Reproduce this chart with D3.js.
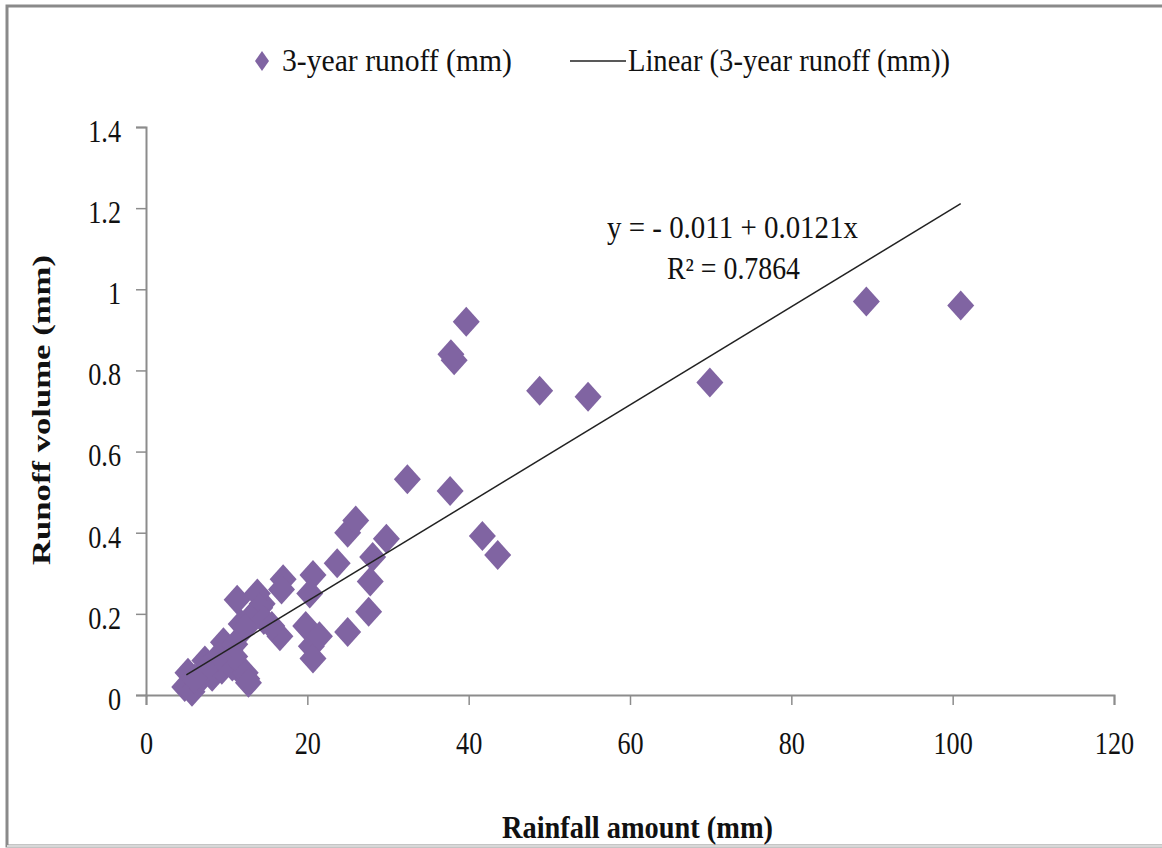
<html>
<head>
<meta charset="utf-8">
<title>Runoff vs rainfall</title>
<script src="https://d3js.org/d3.v7.min.js"></script>
<style>
  body { margin: 0; background: #fff; }
  text { font-family: "Liberation Serif", "Times New Roman", serif; fill: #111; }
</style>
</head>
<body>
<svg width="1162" height="848"></svg>
<script>
// rainfall (mm) and 3-year runoff (mm)
var rainfall = [101, 89.3, 69.9, 54.8, 48.8, 39.7, 37.8, 38.2, 37.7, 32.4, 41.7, 43.6,
  25, 26, 29.8, 28.1, 27.8, 23.7, 20.7, 17, 16.8, 20.3, 27.6, 25, 19.8, 20.5, 20.7, 21.5,
  16.6, 14.4, 11.3, 13.8, 14.1, 12.9, 14.6, 11.8, 15.6, 12.3, 9.6, 10.4, 11, 12.5,
  7.3, 5.2, 4.8, 5.7, 6.4, 8.2, 9.4, 10.7, 12.3, 12.7, 11, 8.9, 7.3, 6];
var runoff = [0.96, 0.97, 0.77, 0.735, 0.75, 0.92, 0.84, 0.825, 0.503, 0.532, 0.392, 0.345,
  0.40, 0.43, 0.385, 0.34, 0.28, 0.325, 0.296, 0.285, 0.26, 0.25, 0.205, 0.155, 0.17, 0.12, 0.09, 0.145,
  0.145, 0.225, 0.235, 0.25, 0.215, 0.19, 0.185, 0.175, 0.17, 0.165, 0.13, 0.11, 0.125, 0.04,
  0.085, 0.055, 0.02, 0.008, 0.03, 0.045, 0.062, 0.07, 0.055, 0.03, 0.095, 0.095, 0.062, 0.04];

var xTicks = [0, 20, 40, 60, 80, 100, 120];
var yTicks = [0, 0.2, 0.4, 0.6, 0.8, 1, 1.2, 1.4];

// fitted line y = a + b x
var fitIntercept = -0.011, fitSlope = 0.0121;
var fitRange = [5, 101];

var svg = d3.select("svg");
var color = "#8064A2";
var squeeze = 0.82; // the picture's text is narrow for its height

// outer frame
svg.append("rect").attr("x", 7).attr("y", 6).attr("width", 1170).attr("height", 840)
  .attr("fill", "#fff").attr("stroke", "#8a8a8a").attr("stroke-width", 3);
svg.append("line").attr("x1", 7).attr("x2", 1162).attr("y1", 846).attr("y2", 846)
  .attr("stroke", "#d8d8d8").attr("stroke-width", 2);

var x = d3.scaleLinear().domain([0, 120]).range([146, 1114]);
var y = d3.scaleLinear().domain([0, 1.4]).range([695, 127]);

var xAxis = svg.append("g").attr("transform", "translate(0,695)")
  .call(d3.axisBottom(x).tickValues(xTicks).tickSize(10).tickFormat(d3.format("d")));
var yAxis = svg.append("g").attr("transform", "translate(146,0)")
  .call(d3.axisLeft(y).tickValues(yTicks).tickSize(10)
    .tickFormat(function (d) { return d == 0 || d == 1 ? d : d3.format(".1f")(d); }));
[xAxis, yAxis].forEach(function (a) {
  a.attr("font-family", null).attr("font-size", null);
  a.select(".domain").attr("stroke", "#8c8c8c").attr("stroke-width", 2);
  a.selectAll(".tick line").attr("stroke", "#8c8c8c").attr("stroke-width", 1.5);
  a.selectAll(".tick text").style("font-size", "32px").attr("fill", "#111")
    .attr("transform", "scale(" + squeeze + ",1)");
});
xAxis.selectAll(".tick text").attr("y", 36).attr("dy", "0.71em");
yAxis.selectAll(".tick text").attr("x", -25 / squeeze).attr("dy", "0.45em");

// diamond markers
function diamond(cx, cy, w, h) {
  return "M" + cx + "," + (cy - h) + "L" + (cx + w) + "," + cy + "L" + cx + "," + (cy + h) + "L" + (cx - w) + "," + cy + "Z";
}
svg.append("g").selectAll("path").data(rainfall).enter().append("path")
  .attr("d", function (d, i) { return diamond(x(d), y(runoff[i]), 13.5, 15); })
  .attr("fill", color);

// trend line
svg.append("line")
  .attr("x1", x(fitRange[0])).attr("y1", y(fitIntercept + fitSlope * fitRange[0]))
  .attr("x2", x(fitRange[1])).attr("y2", y(fitIntercept + fitSlope * fitRange[1]))
  .attr("stroke", "#222").attr("stroke-width", 1.5);

function label(tx, ty, txt, size, len, bold) {
  return svg.append("text").attr("x", tx).attr("y", ty)
    .attr("textLength", len).attr("lengthAdjust", "spacingAndGlyphs")
    .style("font-size", size + "px").style("font-weight", bold ? "bold" : "normal").text(txt);
}

// equation
label(607, 238, "y = - 0.011 + 0.0121x", 31, 251);
label(667, 279, "R² = 0.7864", 31, 133);

// legend
svg.append("path").attr("d", diamond(262, 61, 7, 10)).attr("fill", color);
label(282, 71, "3-year runoff (mm)", 31, 230);
svg.append("line").attr("x1", 570).attr("x2", 626).attr("y1", 61).attr("y2", 61)
  .attr("stroke", "#222").attr("stroke-width", 1.5);
label(628, 71, "Linear (3-year runoff (mm))", 31, 322);

// axis titles
label(502, 838, "Rainfall amount (mm)", 31, 271, true);
svg.append("text").attr("transform", "translate(50,410) scale(" + squeeze + ",1) rotate(-90)")
  .attr("text-anchor", "middle").attr("textLength", 310).attr("lengthAdjust", "spacingAndGlyphs")
  .style("font-size", "32px").style("font-weight", "bold").text("Runoff volume (mm)");
</script>
</body>
</html>
